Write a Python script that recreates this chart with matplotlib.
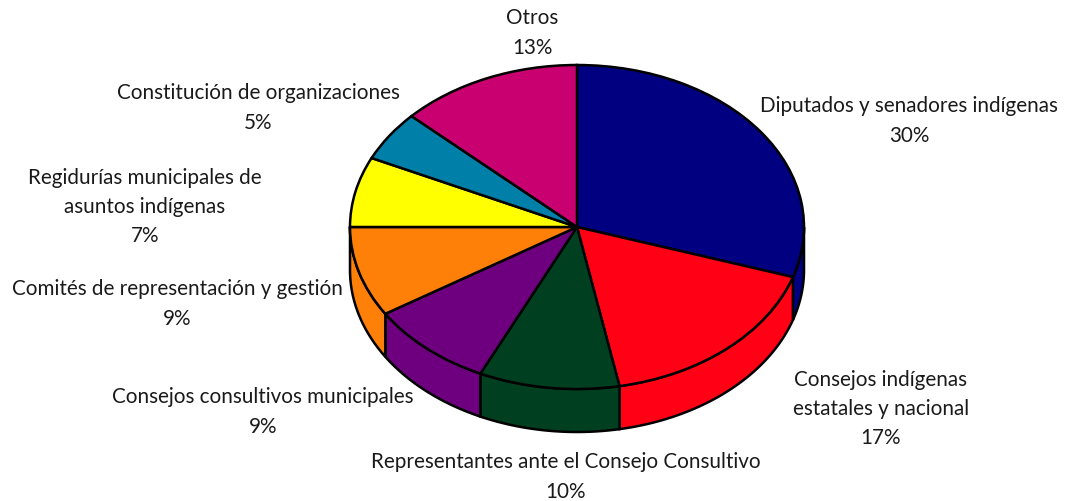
import numpy as np
import matplotlib
matplotlib.use('Agg')
import matplotlib.pyplot as plt

# porcentajes en sentido horario desde arriba
categorias = ['Diputados y senadores indígenas', 'Consejos indígenas\nestatales y nacional',
              'Representantes ante el Consejo Consultivo', 'Consejos consultivos municipales',
              'Comités de representación y gestión', 'Regidurías municipales de\nasuntos indígenas',
              'Constitución de organizaciones', 'Otros']
valores = [30, 17, 10, 9, 9, 7, 5, 13]
colores = ['#000080', '#ff0014', '#004020', '#6e0080', '#ff8008', '#ffff00', '#0080a8', '#c80070']
# centro de cada etiqueta en pixeles
pos_etiquetas = [(909, 121), (881, 409), (566, 477), (263, 412), (177, 304), (145, 207), (258, 108), (532, 33)]

W, H = 1071, 502
cx, cy, rx, ry, prof = 577, 228, 227, 162, 43

fig = plt.figure(figsize=(W / 100, H / 100), dpi=100)
ax = fig.add_axes([0, 0, 1, 1])

# pie de radio 1, la escala de los ejes lo aplasta
ax.pie(valores, colors=colores, startangle=90, counterclock=False, radius=1,
       wedgeprops={'edgecolor': 'black', 'linewidth': 1.8})
ax.set_aspect('auto')
ax.set_xlim(-cx / rx, (W - cx) / rx)
ax.set_ylim((cy - H) / ry, cy / ry)
ax.axis('off')

# pared lateral de la parte de delante
dy = prof / ry
limites = np.cumsum([0] + valores) / 100 * 360
for i, c in enumerate(colores):
    a0, a1 = limites[i], limites[i + 1]
    # solo la mitad de abajo se ve (de 90 a 270 grados desde arriba)
    a0, a1 = max(a0, 90), min(a1, 270)
    if a1 <= a0:
        continue
    t = np.radians(np.linspace(a0, a1, 60))
    x = np.sin(t)
    y = np.cos(t)
    ax.fill(np.r_[x, x[::-1]], np.r_[y, y[::-1] - dy], facecolor=c, edgecolor='black', lw=1.8, zorder=0.5)

def poner_texto(nombre, valor, p):
    fig.text(p[0] / W, 1 - p[1] / H, f'{nombre}\n{valor}%', ha='center', va='center',
             fontsize=14.9, family='Lato', color='#1a1a1a', linespacing=1.58)

for n, v, p in zip(categorias, valores, pos_etiquetas):
    poner_texto(n, v, p)

fig.savefig('out.png', dpi=100)
